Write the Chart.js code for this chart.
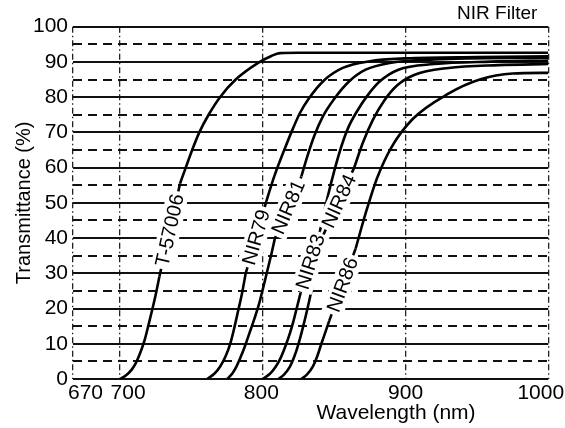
<!DOCTYPE html>
<html>
<head>
<meta charset="utf-8">
<script src="https://cdn.jsdelivr.net/npm/chart.js@4.4.1/dist/chart.umd.min.js"></script>
<style>
  html, body { margin: 0; padding: 0; background: #fff; }
  #wrap { width: 565px; height: 428px; }
</style>
</head>
<body>
<div id="wrap"><canvas id="myChart" width="565" height="428"></canvas></div>
<script>
// x axis starts just left of 670 nm, the first tick is labelled 670
const xMin = 667;
const xMax = 1000;
const xTickValues = [667, 700, 800, 900, 1000];
const xTickLabels = ['670', '700', '800', '900', '1000'];

// curve names, each curve is split where its name is written on it
const seriesNames = ['T-57006', 'NIR79', 'NIR81', 'NIR83', 'NIR84', 'NIR86'];

// [wavelength nm, transmittance %] below and above each name
const t57006Low  = [[700,0],[704,1],[708,2.6],[711,4.5],[714,7.3],[717,10.8],[720,15.5],[723,20.5],[725.5,25],[727.5,29]];
const t57006High = [[742,55.5],[746,60],[750.5,65],[755.5,70],[762,75],[770,80],[781,85],[797,89.8],[806,91.7],[812,92.5],[825,92.6],[1000,92.6]];

const nir79Low  = [[761,0],[766,1.5],[770,3.5],[774,6.5],[777.5,10.5],[780,14.5],[782.5,19],[785.5,24.5],[788,30]];
const nir79High = [[802.5,50.5],[808,57.5],[815,65],[821,71],[826,75.5],[832,79.5],[843,84.8],[856,88.3],[875,90.2],[900,91],[950,91.4],[1000,91.6]];

const nir81Low  = [[775,0],[778.5,1.5],[781.5,3.5],[784,5.8],[787,8.8],[790,12.3],[794,17],[797,20.8],[800,25.5],[803,30.5],[806,35.5],[808.5,40]];
const nir81High = [[827,57.5],[831,63],[836,69],[842,74.5],[850,79.5],[860,84.3],[872,87.8],[890,89.8],[920,90.7],[1000,91.2]];

const nir83Low  = [[800,0],[805,1.5],[809,3.5],[812.5,6],[816,9.5],[819,13],[821.5,16.5],[824,20.5],[826.5,24.5]];
const nir83High = [[840,42],[845,51],[850,59],[855,66],[860,71.5],[866,76],[873,80.3],[882,84.5],[895,87.8],[920,89.4],[960,90.1],[1000,90.4]];

const nir84Low  = [[811,0],[815,1.3],[819,3.5],[822,6.3],[825,10],[828,14.5],[831,19.5],[834,25],[837,31],[840,36.5],[842.5,41]];
const nir84High = [[864,60],[870,67],[877,73.5],[885,79],[894,83.3],[906,86.3],[930,88.3],[965,89.1],[1000,89.4]];

const nir86Low  = [[827,0],[831,1.3],[835,3.5],[838,6.3],[841,10],[844,13.5],[846.5,16.5]];
const nir86High = [[865,37],[872,47],[880,57],[890,65.7],[905,73.8],[930,81],[952,85],[975,86.7],[1000,86.9]];

const lowParts  = [t57006Low, nir79Low, nir81Low, nir83Low, nir84Low, nir86Low];
const highParts = [t57006High, nir79High, nir81High, nir83High, nir84High, nir86High];

const FONT = "'Liberation Sans', Arial, sans-serif";

// one dataset per curve, a null point leaves the gap for the name
const datasets = seriesNames.map(function (name, i) {
  const pts = lowParts[i].map(p => ({ x: p[0], y: p[1] }));
  const mid = (lowParts[i][lowParts[i].length - 1][0] + highParts[i][0][0]) / 2;
  pts.push({ x: mid, y: null });
  highParts[i].forEach(p => pts.push({ x: p[0], y: p[1] }));
  return {
    label: name,
    data: pts,
    borderColor: '#000',
    borderWidth: 2.6,
    pointRadius: 0,
    fill: false,
    spanGaps: false,
    cubicInterpolationMode: 'monotone'
  };
});

/* names written along the curves, on a white patch */
const curveNames = {
  id: 'curveNames',
  afterDatasetsDraw(chart) {
    const ctx = chart.ctx;
    chart.data.datasets.forEach(function (ds, i) {
      const els = chart.getDatasetMeta(i).data;
      const gap = ds.data.findIndex(p => p.y === null);
      const a = els[gap - 1], b = els[gap + 1];
      const cx = (a.x + b.x) / 2, cy = (a.y + b.y) / 2;
      const ang = Math.atan2(b.y - a.y, b.x - a.x);
      ctx.save();
      ctx.strokeStyle = '#000';
      ctx.lineWidth = 2.6;
      ctx.beginPath();
      ctx.moveTo(a.x, a.y);
      ctx.lineTo(b.x, b.y);
      ctx.stroke();
      ctx.translate(cx, cy);
      ctx.rotate(ang);
      ctx.font = '20px ' + FONT;
      const w = ctx.measureText(ds.label).width;
      ctx.fillStyle = '#fff';
      ctx.fillRect(-w / 2 - 3, -11, w + 6, 22);
      ctx.fillStyle = '#000';
      ctx.textAlign = 'center';
      ctx.textBaseline = 'middle';
      ctx.fillText(ds.label, 0, 1);
      ctx.restore();
    });
  }
};

/* x tick labels, x title and the caption in the corner */
const extraText = {
  id: 'extraText',
  afterDraw(chart) {
    const ctx = chart.ctx;
    const xs = chart.scales.x;
    const area = chart.chartArea;
    const nudge = [12.5, 8, -1.5, 0, -7.5];
    ctx.save();
    ctx.fillStyle = '#000';
    ctx.font = '21px ' + FONT;
    ctx.textAlign = 'center';
    ctx.textBaseline = 'middle';
    xTickValues.forEach(function (v, i) {
      ctx.fillText(xTickLabels[i], xs.getPixelForValue(v) + nudge[i], area.bottom + 14);
    });
    ctx.fillText('Wavelength (nm)', 396, area.bottom + 34);
    ctx.font = '19px ' + FONT;
    ctx.textAlign = 'right';
    ctx.fillText('NIR Filter', area.right - 11, 14);
    ctx.restore();
  }
};

const config = {
  type: 'line',
  data: { datasets: datasets },
  options: {
    responsive: false,
    animation: false,
    layout: { padding: { left: 0, right: 16.7, top: 26.7, bottom: 49 } },
    plugins: {
      legend: { display: false },
      tooltip: { enabled: false }
    },
    scales: {
      x: {
        type: 'linear',
        min: xMin,
        max: xMax,
        afterBuildTicks: function (scale) {
          scale.ticks = xTickValues.map(v => ({ value: v }));
        },
        afterFit: function (scale) {
          scale.height = 0;
          scale.paddingLeft = 0;
          scale.paddingRight = 0;
        },
        ticks: { display: false },
        grid: { color: '#222', lineWidth: 1.3, drawTicks: false },
        border: { display: false, dash: [6, 3, 1.5, 3] }
      },
      y: {
        min: 0,
        max: 100,
        afterFit: function (scale) {
          scale.width = 73;
        },
        ticks: {
          stepSize: 5,
          autoSkip: false,
          padding: 5,
          color: '#000',
          font: { family: FONT, size: 21 },
          callback: v => (v % 10 === 0 ? String(v) : '')
        },
        grid: { color: '#111', lineWidth: 2, drawTicks: false },
        border: {
          display: false,
          dash: ctx => (ctx.tick && ctx.tick.value % 10 !== 0 ? [9, 6] : [])
        },
        title: {
          display: true,
          text: 'Transmittance (%)',
          color: '#000',
          font: { family: FONT, size: 20 },
          padding: { top: 12, bottom: 0 }
        }
      }
    }
  },
  plugins: [curveNames, extraText]
};

const context = document.getElementById('myChart').getContext('2d');
const chart = new Chart(context, config);
</script>
</body>
</html>
